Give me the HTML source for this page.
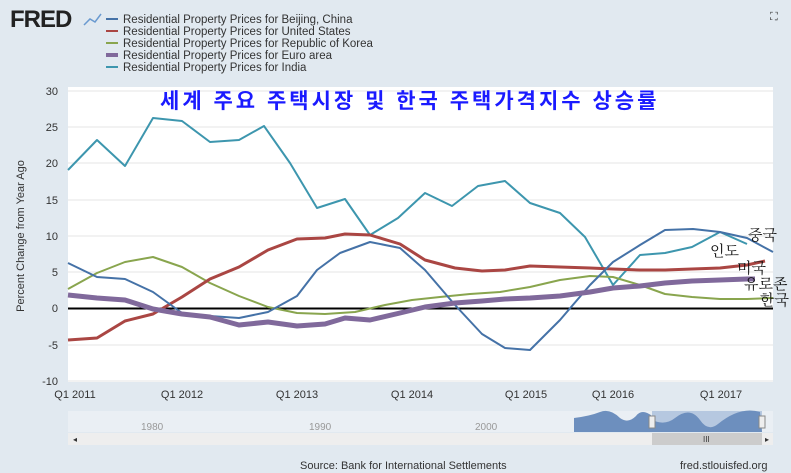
<!DOCTYPE html>
<html><head><meta charset="utf-8"><style>
body{margin:0;background:#e1e9f0;}
svg{display:block;font-family:"Liberation Sans",sans-serif;}
</style></head><body>
<svg width="791" height="473" xmlns="http://www.w3.org/2000/svg">
<rect width="791" height="473" fill="#e1e9f0"/>
<text x="10" y="27" font-size="24" font-weight="bold" fill="#222" letter-spacing="-1">FRED</text>
<polyline points="84,25 90,19 95,22 101,14" fill="none" stroke="#6a9ad0" stroke-width="1.5"/>
<g font-size="11.5" fill="#333">
<line x1="106" y1="19" x2="118" y2="19" stroke="#4572a7" stroke-width="2"/><text x="123" y="23">Residential Property Prices for Beijing, China</text>
<line x1="106" y1="31" x2="118" y2="31" stroke="#aa4643" stroke-width="2"/><text x="123" y="35">Residential Property Prices for United States</text>
<line x1="106" y1="43" x2="118" y2="43" stroke="#89a54e" stroke-width="2"/><text x="123" y="47">Residential Property Prices for Republic of Korea</text>
<line x1="106" y1="55" x2="118" y2="55" stroke="#80699b" stroke-width="4"/><text x="123" y="59">Residential Property Prices for Euro area</text>
<line x1="106" y1="67" x2="118" y2="67" stroke="#3d96ae" stroke-width="2"/><text x="123" y="71">Residential Property Prices for India</text>
</g>
<text x="770" y="20" font-size="11" fill="#333">⛶</text>
<rect x="68" y="87" width="705" height="295" fill="#fff"/>
<g stroke="#e6e6e6" stroke-width="1">
<line x1="68" y1="91" x2="773" y2="91"/><line x1="68" y1="127" x2="773" y2="127"/>
<line x1="68" y1="163" x2="773" y2="163"/><line x1="68" y1="200" x2="773" y2="200"/>
<line x1="68" y1="236" x2="773" y2="236"/><line x1="68" y1="272" x2="773" y2="272"/>
<line x1="68" y1="345" x2="773" y2="345"/><line x1="68" y1="381" x2="773" y2="381"/>
</g>
<g font-size="11" fill="#333" text-anchor="end">
<text x="58" y="95">30</text><text x="58" y="131">25</text><text x="58" y="167">20</text>
<text x="58" y="204">15</text><text x="58" y="240">10</text><text x="58" y="276">5</text>
<text x="58" y="312">0</text><text x="58" y="349">-5</text><text x="58" y="385">-10</text>
</g>
<text transform="translate(24,236) rotate(-90)" font-size="11" fill="#333" text-anchor="middle">Percent Change from Year Ago</text>
<g font-size="11" fill="#333" text-anchor="middle">
<text x="75" y="398">Q1 2011</text><text x="182" y="398">Q1 2012</text><text x="297" y="398">Q1 2013</text>
<text x="412" y="398">Q1 2014</text><text x="526" y="398">Q1 2015</text><text x="613" y="398">Q1 2016</text><text x="721" y="398">Q1 2017</text>
</g>
<line x1="68" y1="308.5" x2="773" y2="308.5" stroke="#000" stroke-width="2"/>
<g fill="none" stroke-linejoin="round">
<polyline stroke="#3d96ae" stroke-width="2" points="68,170 97,140 125,166 153,118 182,121 210,142 239,140 264,126 290,163 317,208 345,199 370,235 398,218 425,193 452,206 478,186 505,181 530,203 560,213 585,237 613,285 640,255 665,253 692,247 720,232 747,244"/>
<polyline stroke="#89a54e" stroke-width="2" points="68,289 97,273 125,262 153,257 182,267 210,283 239,296 268,307 297,313 325,314 355,312 385,305 412,300 440,297 470,294 500,292 530,287 560,280 590,276 613,277 640,285 665,294 692,297 720,299 747,299 773,298"/>
<polyline stroke="#aa4643" stroke-width="3" points="68,340 97,338 125,321 153,314 182,297 210,279 239,267 268,250 297,239 325,238 345,234 370,235 400,244 425,260 455,268 482,271 505,270 530,266 560,267 590,268 613,269 640,270 665,270 692,269 720,268 747,265 765,261"/>
<polyline stroke="#4572a7" stroke-width="2" points="68,263 97,277 125,279 153,292 182,313 210,316 239,318 268,312 297,296 317,270 340,253 370,242 400,248 425,270 455,305 482,334 505,348 530,350 560,320 590,285 613,262 640,245 665,230 693,229 720,232 747,238 773,252"/>
<polyline stroke="#80699b" stroke-width="5" points="68,295 97,298 125,300 153,309 182,314 210,317 239,325 268,322 297,326 325,324 345,318 370,320 400,313 425,307 455,303 482,301 505,299 530,298 560,296 590,292 613,288 640,286 665,283 692,281 720,280 747,279 755,279"/>
</g>
<text x="160" y="108" font-size="21" font-weight="bold" fill="#1a1aff" font-family="'Liberation Sans','Noto Sans CJK KR',sans-serif" letter-spacing="3">세계 주요 주택시장 및 한국 주택가격지수 상승률</text>
<g font-size="15" fill="#111" font-family="'Liberation Serif','Noto Serif CJK SC',serif">
<text x="748" y="240">중국</text><text x="710" y="256">인도</text><text x="737" y="273">미국</text>
<text x="744" y="289">유로존</text><text x="760" y="305">한국</text>
</g>
<rect x="68" y="411" width="705" height="21" fill="#fff" opacity="0.3"/>
<g font-size="10" fill="#999"><text x="141" y="430">1980</text><text x="309" y="430">1990</text><text x="475" y="430">2000</text></g>
<path d="M574,432 L574,418 Q590,416 600,412 Q610,408 620,418 Q628,424 636,416 Q642,408 652,416 L652,432Z" fill="#6d8fbe"/>
<rect x="652" y="411" width="110" height="21" fill="#b6c8e0"/>
<path d="M652,432 L652,420 Q665,426 675,418 Q690,406 700,420 Q708,432 718,424 Q740,406 760,412 L762,432Z" fill="#6d8fbe"/>
<rect x="649" y="416" width="6" height="12" fill="#eee" stroke="#888"/>
<rect x="759" y="416" width="6" height="12" fill="#eee" stroke="#888"/>
<rect x="68" y="433" width="705" height="12" fill="#eee"/>
<rect x="652" y="433" width="110" height="12" fill="#ccc"/>
<text x="703" y="442" font-size="8" fill="#333">III</text>
<text x="73" y="442" font-size="8" fill="#333">◂</text><text x="765" y="442" font-size="8" fill="#333">▸</text>
<text x="300" y="469" font-size="11" fill="#333">Source: Bank for International Settlements</text>
<text x="680" y="469" font-size="11" fill="#333">fred.stlouisfed.org</text>
</svg>
</body></html>
